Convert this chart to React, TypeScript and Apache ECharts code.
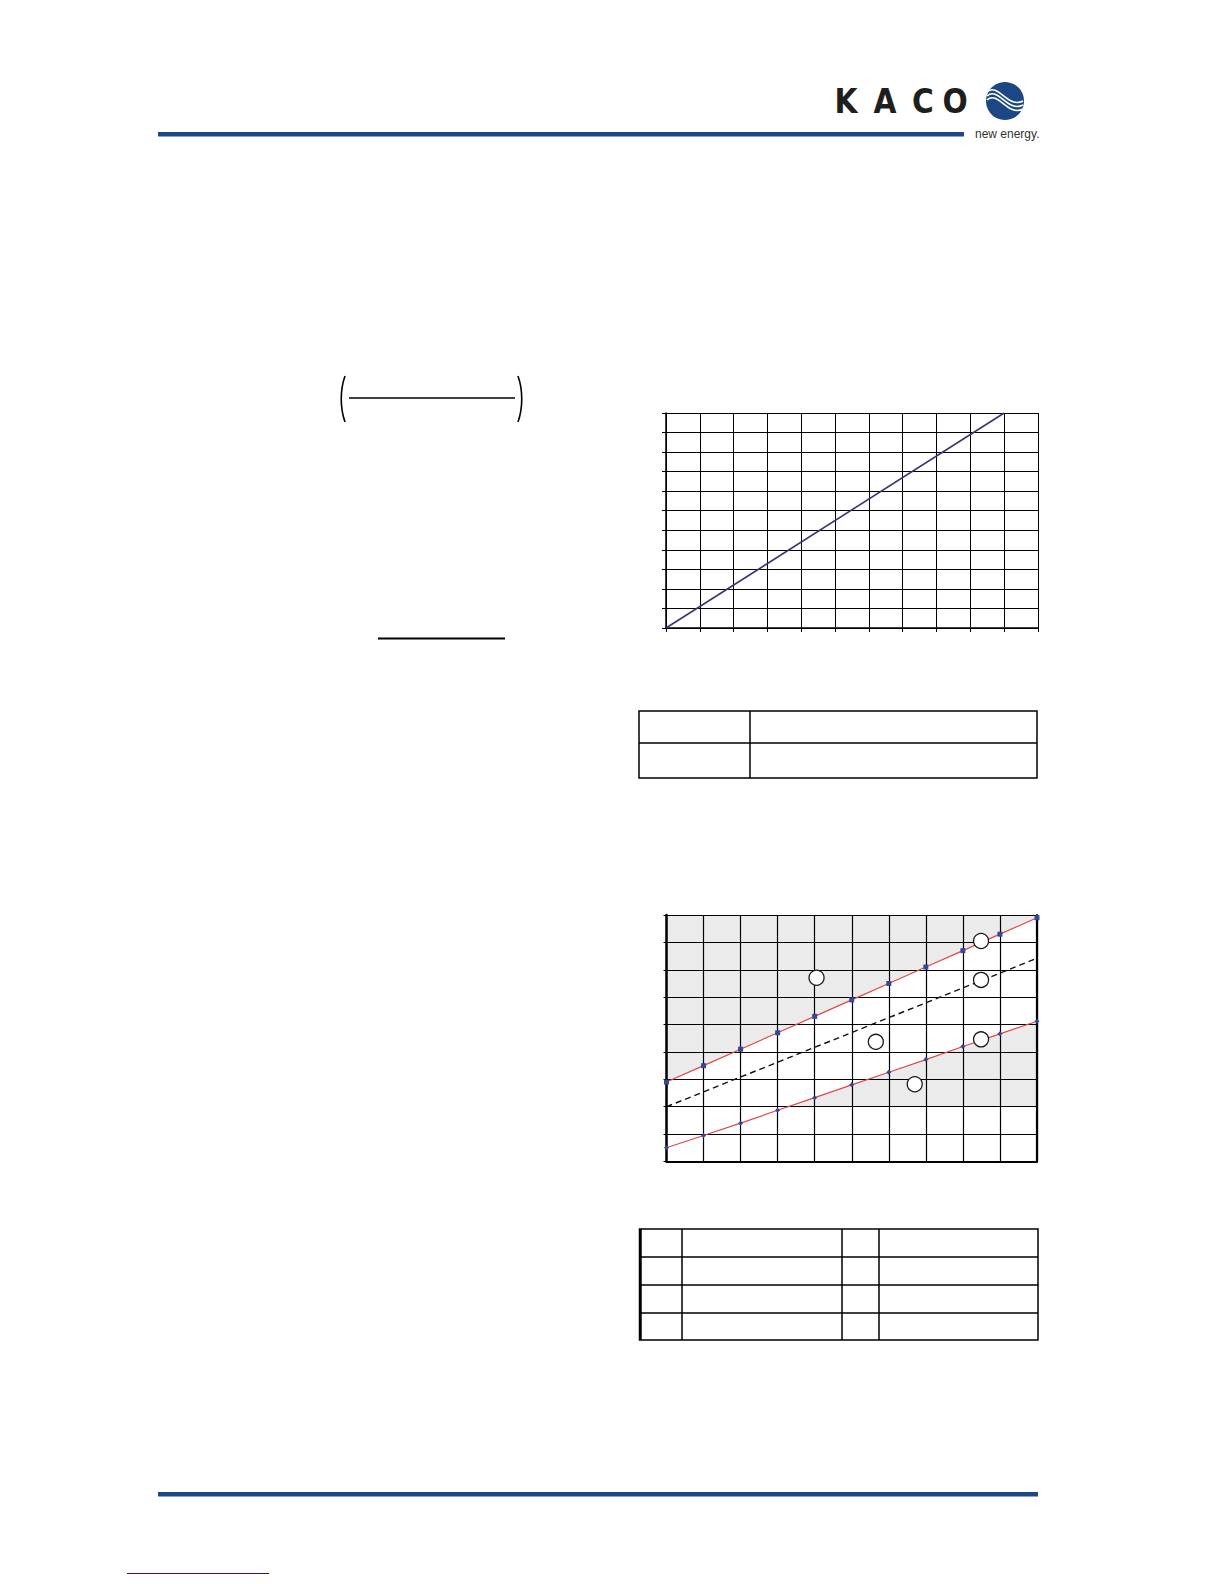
import React, { useEffect, useRef } from "react";
import * as echarts from "echarts";

// ---- Data ----
const chart1X = [0, 10];
const chart1Y = [0, 11];
const chart2X = [0, 1, 2, 3, 4, 5, 6, 7, 8, 9, 10];
const upperValues = [2.9, 3.5, 4.1, 4.7, 5.3, 5.9, 6.5, 7.1, 7.7, 8.3, 8.9];
const lowerValues = [0.5, 0.95, 1.4, 1.87, 2.33, 2.8, 3.26, 3.72, 4.2, 4.66, 5.12];
const dashedX = [0, 10];
const dashedY = [2, 7.42];
const bandFloorX = [0, 10];
const bandFloorY = [2, 2];
const circleX = [4.05, 5.65, 6.7, 8.49, 8.49, 8.49];
const circleY = [6.71, 4.37, 2.82, 8.05, 6.63, 4.46];
const logoLetters = ["K", "A", "C", "O"];
const logoTagline = "new energy.";

const pairs = (xs: number[], ys: number[]) => xs.map((x, i) => [x, ys[i]]);

const BLUE = "#1c4785";

function ln(x1: number, y1: number, x2: number, y2: number, w = 1.5, color = "#000") {
  return { type: "line", shape: { x1, y1, x2, y2 }, style: { stroke: color, lineWidth: w }, z: 10 };
}

export default function App() {
  const ref = useRef<HTMLDivElement>(null);
  useEffect(() => {
    if (!ref.current) return;
    const chart = echarts.init(ref.current, null, { renderer: "svg" });

    const letterCenters = [846, 885, 923, 955];
    const cx = 1005, cy = 101, r = 19;
    const waves = [-4, 0, 4].map((dy) => ({
      type: "bezierCurve",
      shape: {
        x1: cx - 18, y1: cy - 5 + dy,
        cpx1: cx - 7, cpy1: cy - 15 + dy,
        cpx2: cx + 3, cpy2: cy + 12 + dy,
        x2: cx + 18, y2: cy + 4 + dy,
      },
      style: { stroke: "#ffffff", lineWidth: 1.6, fill: null },
      z: 12,
    }));

    const graphics: any[] = [
      // header bar
      { type: "rect", shape: { x: 158, y: 132, width: 806, height: 4.5 }, style: { fill: BLUE }, z: 10 },
      ...logoLetters.map((l, i) => ({
        type: "text",
        x: letterCenters[i],
        y: 101,
        style: {
          text: l,
          fill: "#1e1e1e",
          font: "bold 33px 'DejaVu Sans Condensed', 'DejaVu Sans'",
          align: "center",
          verticalAlign: "middle",
        },
        z: 10,
      })),
      { type: "circle", shape: { cx, cy, r }, style: { fill: BLUE }, z: 11 },
      ...waves,
      {
        type: "text",
        x: 975,
        y: 134,
        style: {
          text: logoTagline,
          fill: "#333",
          font: "12px 'Liberation Sans', Arial",
          align: "left",
          verticalAlign: "middle",
        },
        z: 10,
      },
      // formula parentheses and fraction line
      {
        type: "bezierCurve",
        shape: { x1: 345, y1: 376, cpx1: 340, cpy1: 390, cpx2: 340, cpy2: 408, x2: 345, y2: 422 },
        style: { stroke: "#000", lineWidth: 1.6, fill: null },
        z: 10,
      },
      {
        type: "bezierCurve",
        shape: { x1: 518, y1: 376, cpx1: 523, cpy1: 390, cpx2: 523, cpy2: 408, x2: 518, y2: 422 },
        style: { stroke: "#000", lineWidth: 1.6, fill: null },
        z: 10,
      },
      ln(349, 398, 515, 398, 1.3),
      ln(378, 638.5, 505, 638.5, 2.2),
      // table 1
      { type: "rect", shape: { x: 639, y: 711, width: 398, height: 67 }, style: { fill: null, stroke: "#000", lineWidth: 1.5 }, z: 10 },
      ln(639, 743, 1037, 743),
      ln(750, 711, 750, 778),
      // table 2
      { type: "rect", shape: { x: 639.5, y: 1229, width: 398.5, height: 111 }, style: { fill: null, stroke: "#000", lineWidth: 1.5 }, z: 10 },
      ln(640.5, 1229, 640.5, 1340, 2.5),
      ln(639, 1257, 1038, 1257),
      ln(639, 1285, 1038, 1285),
      ln(639, 1313, 1038, 1313),
      ln(682, 1229, 682, 1340),
      ln(842, 1229, 842, 1340),
      ln(879, 1229, 879, 1340),
      // footer
      { type: "rect", shape: { x: 158, y: 1492, width: 880, height: 4.5 }, style: { fill: BLUE }, z: 10 },
      ln(127, 1573.5, 269, 1573.5, 1, "#1616a0"),
    ];

    const axisBlack = { color: "#000" };

    chart.setOption({
      animation: false,
      backgroundColor: "#ffffff",
      grid: [
        { left: 666, top: 413, width: 372, height: 215 },
        { left: 666.5, top: 915, width: 370.5, height: 246.5 },
      ],
      xAxis: [
        {
          gridIndex: 0, type: "value", min: 0, max: 11, interval: 1, z: 5,
          axisLabel: { show: false },
          axisTick: { show: true, length: 4, lineStyle: { ...axisBlack, width: 1 } },
          axisLine: { show: true, onZero: false, lineStyle: { ...axisBlack, width: 1.5 } },
          splitLine: { show: true, lineStyle: { ...axisBlack, width: 1 } },
        },
        {
          gridIndex: 1, type: "value", min: 0, max: 10, interval: 1, z: 5,
          axisLabel: { show: false },
          axisTick: { show: false },
          axisLine: { show: true, onZero: false, lineStyle: { ...axisBlack, width: 1.8 } },
          splitLine: { show: true, lineStyle: { ...axisBlack, width: 1.2 } },
        },
      ],
      yAxis: [
        {
          gridIndex: 0, type: "value", min: 0, max: 11, interval: 1, z: 5,
          axisLabel: { show: false },
          axisTick: { show: true, length: 4, lineStyle: { ...axisBlack, width: 1 } },
          axisLine: { show: true, onZero: false, lineStyle: { ...axisBlack, width: 1.5 } },
          splitLine: { show: true, lineStyle: { ...axisBlack, width: 1 } },
        },
        {
          gridIndex: 1, type: "value", min: 0, max: 9, interval: 1, z: 5,
          axisLabel: { show: false },
          axisTick: { show: true, length: 3, lineStyle: { ...axisBlack, width: 1 } },
          axisLine: { show: true, onZero: false, lineStyle: { ...axisBlack, width: 2.5 } },
          splitLine: { show: true, lineStyle: { ...axisBlack, width: 1.2 } },
        },
        {
          gridIndex: 1, type: "value", min: 0, max: 9, interval: 1, z: 5, position: "right",
          axisLabel: { show: false },
          axisTick: { show: false },
          axisLine: { show: true, onZero: false, lineStyle: { ...axisBlack, width: 2.2 } },
          splitLine: { show: false },
        },
      ],
      series: [
        {
          type: "line", xAxisIndex: 0, yAxisIndex: 0,
          data: pairs(chart1X, chart1Y),
          symbol: "none",
          lineStyle: { color: "#363673", width: 1.6 },
          z: 10,
        },
        // grey band above upper limit
        {
          type: "line", xAxisIndex: 1, yAxisIndex: 1,
          data: pairs(chart2X, upperValues),
          symbol: "none",
          lineStyle: { width: 0, opacity: 0 },
          areaStyle: { color: "#ebebeb", opacity: 1, origin: "end" },
          z: 1,
        },
        // grey band below lower limit
        {
          type: "line", xAxisIndex: 1, yAxisIndex: 1,
          data: pairs(chart2X, lowerValues),
          symbol: "none",
          lineStyle: { width: 0, opacity: 0 },
          areaStyle: { color: "#ebebeb", opacity: 1, origin: "start" },
          z: 1,
        },
        // white floor of the lower band
        {
          type: "line", xAxisIndex: 1, yAxisIndex: 1,
          data: pairs(bandFloorX, bandFloorY),
          symbol: "none",
          lineStyle: { width: 0, opacity: 0 },
          areaStyle: { color: "#ffffff", opacity: 1, origin: "start" },
          z: 2,
        },
        {
          type: "line", xAxisIndex: 1, yAxisIndex: 1,
          data: pairs(chart2X, upperValues),
          symbol: "rect", symbolSize: 5, showSymbol: true, clip: false,
          lineStyle: { color: "#e04848", width: 1.2 },
          itemStyle: { color: "#34489a" },
          z: 10,
        },
        {
          type: "line", xAxisIndex: 1, yAxisIndex: 1,
          data: pairs(chart2X, lowerValues),
          symbol: "diamond", symbolSize: 5, showSymbol: true, clip: false,
          lineStyle: { color: "#e04848", width: 1.2 },
          itemStyle: { color: "#34489a" },
          z: 10,
        },
        {
          type: "line", xAxisIndex: 1, yAxisIndex: 1,
          data: pairs(dashedX, dashedY),
          symbol: "none",
          lineStyle: { color: "#111", width: 1.4, type: [6, 4] },
          z: 10,
        },
        {
          type: "scatter", xAxisIndex: 1, yAxisIndex: 1,
          data: pairs(circleX, circleY),
          symbol: "circle", symbolSize: 15,
          itemStyle: { color: "#ffffff", borderColor: "#1a1a1a", borderWidth: 1.3, opacity: 1 },
          z: 11,
        },
      ],
      graphic: graphics,
    });

    return () => chart.dispose();
  }, []);

  return (
    <div
      ref={ref}
      style={{ position: "absolute", left: 0, top: 0, width: 1224, height: 1584, background: "#fff" }}
    />
  );
}
